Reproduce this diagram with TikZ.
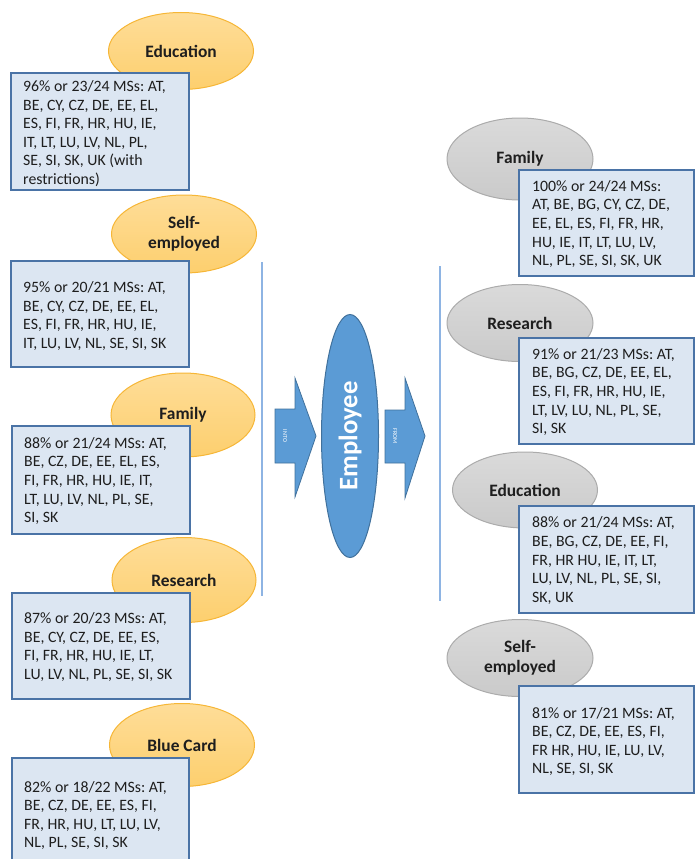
\documentclass[tikz,border=0pt]{standalone}
\usepackage{fontspec}
\setmainfont{Carlito}
\frenchspacing
\usetikzlibrary{shapes.geometric}
\definecolor{orfillT}{HTML}{FEDD98}
\definecolor{orfillB}{HTML}{FDCF6E}
\definecolor{ordraw}{HTML}{F6B636}
\definecolor{gyfillT}{HTML}{DADADA}
\definecolor{gyfillB}{HTML}{CACACA}
\definecolor{gydraw}{HTML}{ABABAB}
\definecolor{boxfill}{HTML}{DCE6F2}
\definecolor{boxdraw}{HTML}{4A73A6}
\definecolor{empfill}{HTML}{5B9BD5}
\definecolor{empdraw}{HTML}{41719C}
\definecolor{sepline}{HTML}{8EB4E3}
\definecolor{txt}{HTML}{1E1E1E}
\tikzset{
  ovalbase/.style={ellipse, inner sep=0pt, align=center, text=txt,
    font=\fontsize{17.4}{20.5}\selectfont\bfseries, line width=1pt},
  orange oval/.style={ovalbase, draw=ordraw, top color=orfillT, bottom color=orfillB},
  gray oval/.style={ovalbase, draw=gydraw, top color=gyfillT, bottom color=gyfillB},
  infobox/.style={rectangle, draw=boxdraw, fill=boxfill, line width=2.2pt,
    inner sep=0pt, anchor=north west},
  infotext/.style={anchor=west, align=left, inner sep=0pt, text=txt,
    font=\fontsize{15.8}{18.6}\selectfont},
  bluearrow/.style={fill=empfill, draw=empdraw, line width=0.8pt},
  arrowlabel/.style={text=white, font=\fontsize{6}{7}\selectfont, rotate=-90, inner sep=0pt},
  sep/.style={draw=sepline, line width=1.2pt}
}
\begin{document}
\begin{tikzpicture}[x=1pt,y=-1pt]
\useasboundingbox (0,0) rectangle (694,859);

% separator lines
\coordinate (l1) at (262,262);
\coordinate (l2) at (262,596);
\coordinate (r1) at (440,266);
\coordinate (r2) at (440,601);
\draw[sep] (l1) -- (l2);
\draw[sep] (r1) -- (r2);

% ---------- left column ----------
\node[orange oval, minimum width=145pt, minimum height=77pt] (edL) at (181,51) {Education};
\node[infobox, minimum width=178pt, minimum height=117pt] (bL1) at (10,72) {};
\node[infotext] (tL1) at ([xshift=13pt,yshift=-2pt]bL1.west) {96\% or 23/24 MSs: AT,\\BE, CY, CZ, DE, EE, EL,\\ES, FI, FR, HR, HU, IE,\\IT, LT, LU, LV, NL, PL,\\SE, SI, SK, UK (with\\restrictions)};

\node[orange oval, minimum width=145pt, minimum height=78pt] (seL) at (184,234) {Self-\\employed};
\node[infobox, minimum width=178pt, minimum height=106pt] (bL2) at (10,260) {};
\node[infotext] (tL2) at ([xshift=13pt,yshift=-2pt]bL2.west) {95\% or 20/21 MSs: AT,\\BE, CY, CZ, DE, EE, EL,\\ES, FI, FR, HR, HU, IE,\\IT, LU, LV, NL, SE, SI, SK};

\node[orange oval, minimum width=144pt, minimum height=84pt] (faL) at (183,415) {Family};
\node[infobox, minimum width=178pt, minimum height=108pt] (bL3) at (11,425) {};
\node[infotext] (tL3) at ([xshift=13pt,yshift=-1pt]bL3.west) {88\% or 21/24 MSs: AT,\\BE, CZ, DE, EE, EL, ES,\\FI, FR, HR, HU, IE, IT,\\LT, LU, LV, NL, PL, SE,\\SI, SK};

\node[orange oval, minimum width=144pt, minimum height=85pt] (reL) at (184,580) {Research};
\node[infobox, minimum width=178pt, minimum height=106pt] (bL4) at (11,592) {};
\node[infotext] (tL4) at ([xshift=13pt,yshift=-1pt]bL4.west) {87\% or 20/23 MSs: AT,\\BE, CY, CZ, DE, EE, ES,\\FI, FR, HR, HU, IE, LT,\\LU, LV, NL, PL, SE, SI, SK};

\node[orange oval, minimum width=145pt, minimum height=83pt] (bcL) at (182,745) {Blue Card};
\node[infobox, minimum width=177pt, minimum height=113pt] (bL5) at (11,757) {};
\node[infotext] (tL5) at ([xshift=13pt,yshift=-1pt]bL5.west) {82\% or 18/22 MSs: AT,\\BE, CZ, DE, EE, ES, FI,\\FR, HR, HU, LT, LU, LV,\\NL, PL, SE, SI, SK};

% ---------- centre ----------
\draw[bluearrow] (275,409) -- (295,409) -- (295,378) -- (316,436) -- (295,497) -- (295,463) -- (275,463) -- cycle;
\node[arrowlabel] (into) at (285,436) {INTO};
\node[ellipse, fill=empfill, draw=empdraw, line width=1pt, minimum width=243pt, minimum height=57pt,
      rotate=90, inner sep=0pt, text=white, font=\fontsize{26.7}{30}\selectfont\bfseries] (emp) at (350,436) {Employee};
\draw[bluearrow] (385,410) -- (405,410) -- (405,378) -- (425,436) -- (405,498) -- (405,463) -- (385,463) -- cycle;
\node[arrowlabel] (from) at (395,436) {FROM};

% ---------- right column ----------
\node[gray oval, minimum width=146pt, minimum height=82pt] (faR) at (520,159) {Family};
\node[infobox, minimum width=175pt, minimum height=106pt] (bR1) at (518,169) {};
\node[infotext] (tR1) at ([xshift=14pt,yshift=-1pt]bR1.west) {100\% or 24/24 MSs:\\AT, BE, BG, CY, CZ, DE,\\EE, EL, ES, FI, FR, HR,\\HU, IE, IT, LT, LU, LV,\\NL, PL, SE, SI, SK, UK};

\node[gray oval, minimum width=146pt, minimum height=77pt] (reR) at (520,323) {Research};
\node[infobox, minimum width=175pt, minimum height=106pt] (bR2) at (518,337) {};
\node[infotext] (tR2) at ([xshift=14pt,yshift=-1pt]bR2.west) {91\% or 21/23 MSs: AT,\\BE, BG, CZ, DE, EE, EL,\\ES, FI, FR, HR, HU, IE,\\LT, LV, LU, NL, PL, SE,\\SI, SK};

\node[gray oval, minimum width=145pt, minimum height=76pt] (edR) at (525,490) {Education};
\node[infobox, minimum width=175pt, minimum height=107pt] (bR3) at (518,505) {};
\node[infotext] (tR3) at ([xshift=14pt,yshift=-1pt]bR3.west) {88\% or 21/24 MSs: AT,\\BE, BG, CZ, DE, EE, FI,\\FR, HR HU, IE, IT, LT,\\LU, LV, NL, PL, SE, SI,\\SK, UK};

\node[gray oval, minimum width=146pt, minimum height=77pt] (seR) at (520,658) {Self-\\employed};
\node[infobox, minimum width=175pt, minimum height=107pt] (bR4) at (518,685) {};
\node[infotext] (tR4) at ([xshift=14pt,yshift=-2pt]bR4.west) {81\% or 17/21 MSs: AT,\\BE, CZ, DE, EE, ES, FI,\\FR HR, HU, IE, LU, LV,\\NL, SE, SI, SK};
\end{tikzpicture}
\end{document}
